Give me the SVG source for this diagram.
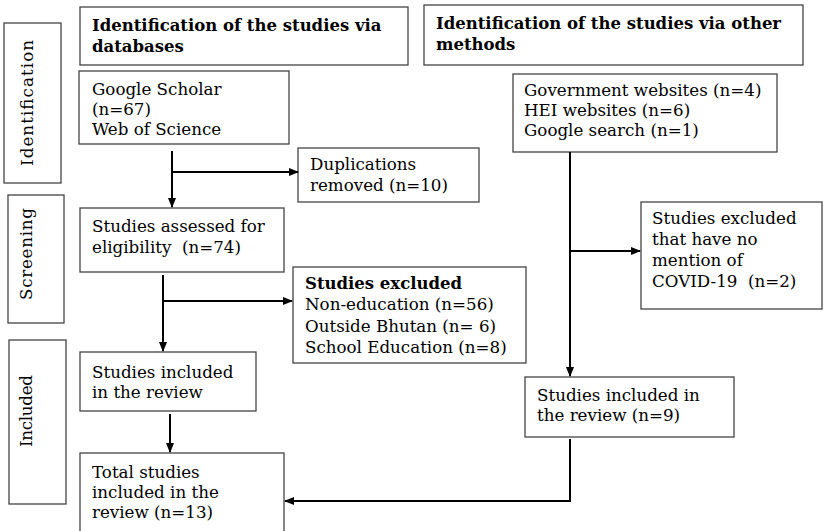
<svg xmlns="http://www.w3.org/2000/svg" width="824" height="531" viewBox="0 0 824 531">
<defs>
<marker id="ah" markerWidth="10" markerHeight="10" refX="9" refY="5" orient="auto" markerUnits="userSpaceOnUse">
<path d="M0,1 L10,5 L0,9 Z" fill="#000"/>
</marker>
<style>
.box{fill:#fff;stroke:#444;stroke-width:1.3}
.t{font-family:"DejaVu Serif","Liberation Serif",serif;font-size:16.7px;fill:#000;white-space:pre}
.b{font-weight:bold;font-size:16.5px}
.c{fill:none;stroke:#000;stroke-width:2}
</style>
</defs>
<rect width="824" height="531" fill="#fff"/>
<g id="stage-identification">
<rect class="box" x="4" y="23" width="57" height="160"/>
<text class="t" transform="translate(33,103) rotate(-90)" text-anchor="middle" textLength="126">Identification</text>
</g>
<g id="stage-screening">
<rect class="box" x="8" y="195" width="56" height="128"/>
<text class="t" transform="translate(32,254) rotate(-90)" text-anchor="middle" textLength="92">Screening</text>
</g>
<g id="stage-included">
<rect class="box" x="9" y="340" width="57" height="164"/>
<text class="t" transform="translate(32,411) rotate(-90)" text-anchor="middle" textLength="72">Included</text>
</g>
<g id="title-db">
<rect class="box" x="80" y="7" width="328" height="58"/>
<text class="t b" x="92" y="31">Identification of the studies via</text>
<text class="t b" x="92" y="52">databases</text>
</g>
<g id="title-other">
<rect class="box" x="424" y="5" width="379" height="60"/>
<text class="t b" x="436" y="29">Identification of the studies via other</text>
<text class="t b" x="436" y="50">methods</text>
</g>
<g id="db-sources">
<rect class="box" x="79" y="71" width="210" height="73"/>
<text class="t" x="92" y="95">Google Scholar</text>
<text class="t" x="92" y="115">(n=67)</text>
<text class="t" x="92" y="135">Web of Science</text>
</g>
<g id="duplicates">
<rect class="box" x="298" y="148" width="181" height="54"/>
<text class="t" x="310" y="170">Duplications</text>
<text class="t" x="310" y="191">removed (n=10)</text>
</g>
<g id="assessed">
<rect class="box" x="80" y="208" width="204" height="64"/>
<text class="t" x="92" y="232">Studies assessed for</text>
<text class="t" x="92" y="253">eligibility  (n=74)</text>
</g>
<g id="excluded-db">
<rect class="box" x="293" y="267" width="233" height="96"/>
<text class="t b" x="305" y="289">Studies excluded</text>
<text class="t" x="305" y="310">Non-education (n=56)</text>
<text class="t" x="305" y="332">Outside Bhutan (n= 6)</text>
<text class="t" x="305" y="353">School Education (n=8)</text>
</g>
<g id="included-db">
<rect class="box" x="80" y="352" width="176" height="59"/>
<text class="t" x="92" y="378">Studies included</text>
<text class="t" x="92" y="398">in the review</text>
</g>
<g id="total">
<rect class="box" x="80" y="453" width="204" height="80"/>
<text class="t" x="92" y="478">Total studies</text>
<text class="t" x="92" y="498">included in the</text>
<text class="t" x="92" y="518">review (n=13)</text>
</g>
<g id="other-sources">
<rect class="box" x="513" y="74" width="264" height="78"/>
<text class="t" x="524" y="96">Government websites (n=4)</text>
<text class="t" x="524" y="116">HEI websites (n=6)</text>
<text class="t" x="524" y="136">Google search (n=1)</text>
</g>
<g id="excluded-other">
<rect class="box" x="641" y="202" width="181" height="107"/>
<text class="t" x="652" y="224">Studies excluded</text>
<text class="t" x="652" y="245">that have no</text>
<text class="t" x="652" y="266">mention of</text>
<text class="t" x="652" y="287">COVID-19  (n=2)</text>
</g>
<g id="included-other">
<rect class="box" x="525" y="377" width="209" height="60"/>
<text class="t" x="537" y="401">Studies included in</text>
<text class="t" x="537" y="421">the review (n=9)</text>
</g>
<g id="connectors">
<path class="c" d="M172,151 V207" marker-end="url(#ah)"/>
<path class="c" d="M172,172 H298" marker-end="url(#ah)"/>
<path class="c" d="M163,275 V351" marker-end="url(#ah)"/>
<path class="c" d="M163,301 H292" marker-end="url(#ah)"/>
<path class="c" d="M170,414 V452" marker-end="url(#ah)"/>
<path class="c" d="M570,152 V376" marker-end="url(#ah)"/>
<path class="c" d="M570,251 H640" marker-end="url(#ah)"/>
<path class="c" d="M570,439 V501 H285" marker-end="url(#ah)"/>
</g>
</svg>
